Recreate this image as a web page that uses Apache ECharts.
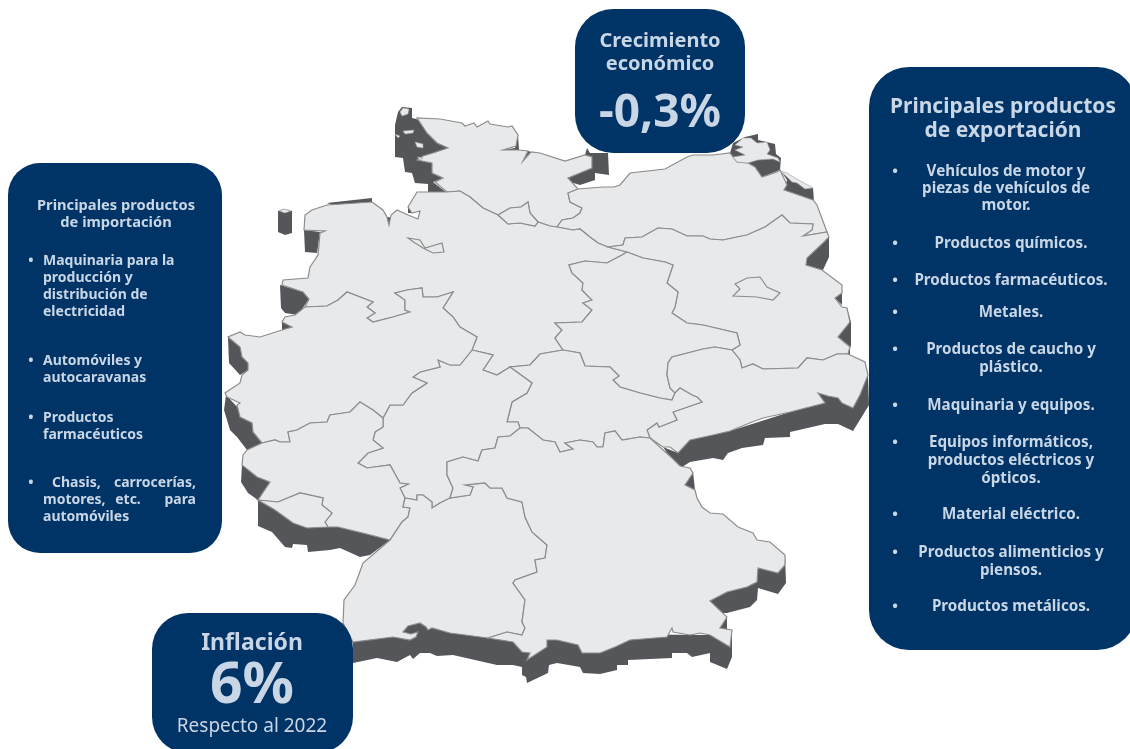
<!DOCTYPE html>
<html><head><meta charset="utf-8">
<style>html,body{margin:0;padding:0;background:#fff}#c{width:1130px;height:749px}</style>
<script src="https://cdn.jsdelivr.net/npm/echarts@6/dist/echarts.min.js"></script>
</head><body><div id="c"></div>
<script>
// ---- texts / values ----
const growthTitle = ['Crecimiento','económico'];
const growthValue = '-0,3%';
const inflationTitle = 'Inflación';
const inflationValue = '6%';
const inflationNote = 'Respecto al 2022';
const importTitle = ['Principales productos','de importación'];
const importItems = [
  ['Maquinaria para la','producción y','distribución de','electricidad'],
  ['Automóviles y','autocaravanas'],
  ['Productos','farmacéuticos'],
  ['Chasis, carrocerías,','motores, etc. para','automóviles']
];
const exportTitle = ['Principales productos','de exportación'];
const exportItems = [
  ['Vehículos de motor y','piezas de vehículos de','motor.'],
  ['Productos químicos.'],
  ['Productos farmacéuticos.'],
  ['Metales.'],
  ['Productos de caucho y','plástico.'],
  ['Maquinaria y equipos.'],
  ['Equipos informáticos,','productos eléctricos y','ópticos.'],
  ['Material eléctrico.'],
  ['Productos alimenticios y','piensos.'],
  ['Productos metálicos.']
];
// ---- map outlines (map units), shared borders ----
const coastSH=[[447,192],[435,182],[443,178],[432,173],[432,163],[417,160],[423,156],[433,153],[448,148],[437,143],[427,133],[417,118],[440,119],[462,123],[465,126],[474,123],[477,127],[488,121],[490,124],[508,127],[512,126],[518,135],[516,146],[503,150],[519,150],[528,151],[523,161],[531,152],[540,153],[565,161],[585,155],[592,157],[592,168],[580,173],[568,178],[578,189]];
const coastMV=[[578,189],[603,187],[614,187],[620,185],[630,173],[665,169],[687,157],[693,155],[713,155],[730,153],[733,157],[737,162],[748,163],[755,167],[762,177],[777,172],[780,170],[787,185],[784,190],[793,193],[813,200],[817,205],[827,232]];
const borderBB=[[827,232],[829,237],[823,243],[807,258],[806,265],[822,270],[842,285],[842,293],[835,298],[842,307],[847,308],[850,322],[838,337],[850,347],[848,354]];
const borderSN=[[848,354],[865,362],[868,375],[860,395],[853,408],[842,403],[838,398],[828,396],[818,393],[825,403],[790,412],[763,418],[752,422],[730,431],[713,435],[690,440],[678,453],[670,447],[663,447],[650,438]];
const borderBY=[[650,438],[662,449],[671,457],[680,466],[690,468],[693,473],[685,485],[695,490],[697,498],[702,507],[710,513],[723,514],[738,527],[753,533],[757,540],[770,542],[785,555],[785,565],[778,573],[758,568],[757,582],[747,587],[727,592],[710,601],[727,617],[720,628],[732,630],[730,647],[710,635],[700,633],[690,635],[673,632],[672,628],[667,637],[630,640],[615,647],[600,653],[582,653],[578,645],[557,640],[547,640],[547,647],[527,660],[530,653],[522,652],[513,642],[507,641],[488,638]];
const borderBW=[[488,638],[450,633],[432,628],[428,630],[426,627],[420,623],[408,626],[403,632],[411,634],[418,632],[416,637],[410,640],[393,637],[353,642],[343,623],[344,600],[355,585],[363,563],[390,540]];
const borderRLPs=[[390,540],[367,534],[338,527],[328,527]];
const borderSaar=[[328,527],[307,528],[293,523],[275,510],[258,500]];
const borderRLPw=[[258,500],[270,482],[257,477],[242,465],[243,455],[247,450],[262,443]];
const borderNRW=[[262,443],[253,432],[252,423],[240,417],[237,405],[240,403],[227,397],[225,393],[240,383],[242,375],[248,370],[248,363],[242,357],[240,347],[228,337],[240,332],[245,335],[260,337],[282,330],[292,327],[282,322],[285,317],[295,315],[305,307]];
const coastNI=[[305,307],[309,299],[303,292],[282,285],[283,280],[308,278],[310,267],[318,255],[320,233],[325,231],[304,230],[305,215],[312,210],[327,205],[372,202],[383,210],[387,217],[389,225],[391,215],[397,210],[408,215],[418,219],[420,211],[412,213],[408,207],[417,192],[447,192]];
const elbe=[[447,192],[460,191],[470,197],[483,208],[498,215]];
const hhN=[[498,215],[510,208],[521,207],[528,202],[530,213],[538,222]];
const hhS=[[498,215],[508,224],[520,223],[535,226],[538,222]];
const elbeE=[[538,222],[550,226],[557,227]];
const shMv=[[578,189],[568,193],[570,202],[582,208],[580,213],[573,218],[562,220],[557,227]];
const niMv=[[557,227],[573,230],[580,229],[590,237],[598,243],[608,247]];
const mvBb=[[608,247],[623,245],[625,238],[642,237],[658,228],[672,229],[687,236],[703,236],[710,239],[723,240],[737,237],[747,235],[765,227],[782,215],[790,223],[813,224],[812,230],[803,236],[827,232]];
const niBb=[[608,247],[627,252]];
const stBb=[[627,252],[643,258],[665,262],[673,265],[667,283],[678,292],[675,307],[672,313],[687,323],[703,325],[737,333],[740,345],[732,350]];
const niSt=[[627,252],[622,255],[607,263],[585,261],[569,265],[572,273],[583,283],[582,290],[592,300],[583,303],[592,310],[582,322],[555,323],[562,330],[555,338],[563,350]];
const niTh=[[563,350],[540,354],[530,365],[510,367]];
const niHe=[[510,367],[497,375],[483,370],[493,355],[472,350]];
const niNrw=[[472,350],[477,337],[460,327],[453,317],[443,308],[453,292],[437,297],[423,297],[422,288],[407,290],[395,293],[405,300],[405,310],[410,312],[393,317],[373,322],[367,318],[375,313],[367,307],[373,302],[347,292],[338,300],[327,306],[305,307]];
const nrwHe=[[472,350],[460,365],[450,365],[438,360],[440,367],[420,372],[413,377],[427,383],[412,393],[403,405],[390,405],[383,418]];
const nrwRlp=[[383,418],[373,410],[360,402],[350,412],[330,415],[327,422],[310,423],[297,430],[288,432],[290,442],[280,442],[275,440],[262,443]];
const heRlp=[[383,418],[383,427],[375,432],[373,440],[383,448],[368,453],[358,463],[367,468],[390,465],[400,483],[408,484],[400,488],[405,498]];
const rlpBw=[[405,498],[403,507],[410,508],[408,517],[402,522],[390,540]];
const heBw=[[405,498],[417,500],[417,495],[423,495],[432,502],[432,508],[440,503],[450,498]];
const heBy=[[450,498],[453,488],[447,475],[447,462],[463,457],[478,461],[482,450],[495,448],[498,437],[510,436],[520,428]];
const bwBy=[[450,498],[470,495],[473,487],[465,485],[485,483],[490,488],[502,488],[507,498],[522,502],[525,517],[532,532],[547,545],[545,558],[535,560],[537,572],[515,580],[513,583],[525,600],[522,622],[525,628],[522,635],[507,632],[488,638]];
const heTh=[[510,367],[532,383],[527,393],[512,402],[507,422],[518,422],[520,428]];
const thBy=[[520,428],[528,428],[543,440],[555,442],[560,452],[573,449],[565,443],[580,440],[593,442],[597,447],[603,447],[605,433],[615,431],[622,440],[640,437],[650,438]];
const thSn=[[650,438],[647,430],[657,423],[659,427],[677,420],[673,412],[702,402],[697,397],[692,395],[680,388],[675,393]];
const stTh=[[563,350],[580,353],[585,366],[610,367],[619,376],[613,380],[620,387],[640,393],[660,398],[672,400],[675,393]];
const stSn=[[675,393],[670,388],[667,375],[668,363],[672,357],[703,349],[715,347],[732,350]];
const bbSn=[[732,350],[740,360],[742,368],[753,364],[763,369],[798,368],[807,358],[823,360],[837,354],[848,354]];
const rlpSaar=[[258,500],[278,502],[300,493],[323,498],[322,505],[332,513],[325,522],[328,527]];
const berlin=[[735,284],[747,278],[760,277],[767,287],[780,293],[773,300],[757,297],[733,296],[740,289]];
const bremen=[[408,238],[420,240],[425,248],[442,243],[444,252],[433,253],[423,248],[415,243]];
// relief side walls (dark)
const wallHelgoland=[[278,211],[284,209],[292,211],[292,233],[285,235],[278,232]];
const wallFrisia=[[398,112],[402,107],[412,108],[412,118],[420,120],[427,133],[437,143],[448,148],[433,153],[423,157],[417,160],[432,163],[432,173],[443,178],[433,182],[447,193],[428,195],[428,184],[415,183],[412,173],[405,172],[403,158],[395,157],[395,125]];
const wallKiel=[[503,150],[515,148],[518,135],[519,150]];
const wallKiel2=[[523,161],[528,151],[531,152]];
const wallLuebeck=[[585,155],[587,148],[590,153],[608,153],[609,175],[595,173],[595,180],[580,185],[570,182],[568,178],[580,173],[592,168],[592,157]];
const wallWismar=[[614,187],[619,189],[620,185]];
const wallRuegen=[[730,153],[733,143],[745,137],[758,134],[758,140],[775,144],[776,154],[781,158],[780,170],[762,177],[755,170],[748,163],[737,162]];
const wallUsedom=[[780,170],[790,177],[800,183],[813,188],[814,201],[793,195],[784,190],[787,180]];
const wallOder1=[[829,237],[829,257],[823,270],[806,265],[807,258],[823,243]];
const wallOder2=[[842,285],[842,305],[835,298]];
const wallOder3=[[847,308],[851,322],[851,347],[838,337]];
const wallOder4=[[850,347],[850,358],[848,354]];
const wallSaxony=[[818,393],[838,398],[853,408],[868,375],[869,405],[853,431],[838,424],[825,424],[790,432],[790,437],[765,438],[763,445],[742,448],[728,453],[723,460],[713,458],[690,462],[682,467],[672,460],[663,447],[678,453],[690,440],[730,431],[790,412],[825,403]];
const wallBohemia=[[693,472],[695,490],[685,485]];
const wallInn=[[785,555],[786,583],[778,594],[758,588],[757,600],[750,607],[727,613],[720,613],[710,601],[727,592],[757,582],[758,568],[778,573]];
const wallSalzach=[[727,617],[727,630],[720,628]];
const wallAlps=[[732,630],[732,657],[727,669],[710,662],[710,653],[692,657],[687,653],[672,653],[672,658],[628,660],[628,665],[617,665],[617,670],[600,674],[583,673],[580,667],[557,663],[549,665],[548,673],[527,683],[526,677],[522,675],[522,667],[513,665],[497,665],[453,655],[437,656],[430,653],[420,653],[413,659],[410,655],[397,662],[377,658],[353,663],[353,642],[403,632],[408,626],[420,623],[450,633],[710,635]];
const wallSaar=[[258,500],[258,526],[272,532],[285,547],[292,548],[293,544],[307,545],[308,552],[330,550],[340,548],[360,557],[370,555],[390,540],[338,527]];
const wallRlp=[[242,465],[241,482],[248,493],[258,500],[270,483]];
const wallEifel=[[226,395],[224,410],[230,430],[237,437],[247,450],[262,443],[252,423]];
const wallNiederrhein=[[228,337],[229,363],[240,375],[248,370],[248,363],[242,348]];
const wallNrwNotch=[[282,320],[282,330],[292,327]];
const wallEms=[[280,285],[281,308],[285,313],[298,315],[309,299],[303,292]];
const wallEmsland=[[304,230],[320,232],[317,253],[305,252]];
const wallFrisianIsl=[[327,203],[372,198],[372,202],[335,206]];
const wallJade=[[378,218],[387,217],[395,218],[395,225],[390,225],[387,223]];
const wallElbe=[[408,207],[412,213],[408,213]];
const islets=[
  [[279,211],[284,209],[291,211],[285,213]],
  [[400,112],[403,108],[409,109],[408,114],[402,116]],
  [[403,131],[414,130],[413,133],[405,134]],
  [[395,134],[400,136],[398,138]],
  [[415,142],[423,144],[423,148],[417,147]],
  [[417,157],[423,158],[420,160]],
  [[743,138],[751,138],[757,143],[767,142],[770,150],[767,154],[778,158],[780,162],[773,159],[758,160],[748,163],[737,162],[733,157],[745,155],[735,150],[743,147],[735,145]],
  [[780,171],[787,173],[795,178],[813,188],[805,189],[797,183],[792,182],[788,178]]
];
// ---- assemble ----
const rev=a=>a.slice().reverse();
const ring=(...segs)=>segs.flat().map(p=>[p[0],-p[1]]);
const walls=[wallHelgoland,wallFrisia,wallKiel,wallKiel2,wallLuebeck,wallWismar,wallRuegen,wallUsedom,wallOder1,wallOder2,wallOder3,wallOder4,wallSaxony,wallBohemia,wallInn,wallSalzach,wallAlps,wallSaar,wallRlp,wallEifel,wallNiederrhein,wallNrwNotch,wallEms,wallEmsland,wallFrisianIsl,wallJade,wallElbe];
const states={
 'Schleswig-Holstein':ring(coastSH,shMv,rev(elbeE),rev(hhN),rev(elbe)),
 'Mecklenburg-Vorpommern':ring(coastMV,rev(mvBb),rev(niMv),rev(shMv)),
 'Niedersachsen':ring(coastNI,elbe,hhS,elbeE,niMv,niBb,niSt,niTh,niHe,niNrw),
 'Hamburg':ring(hhN,rev(hhS)),
 'Brandenburg':ring(mvBb,borderBB,rev(bbSn),rev(stBb),rev(niBb)),
 'Sachsen-Anhalt':ring(stBb,rev(stSn),rev(stTh),rev(niSt)),
 'Sachsen':ring(bbSn,borderSN,thSn,stSn),
 'Thüringen':ring(stTh,rev(thSn),rev(thBy),rev(heTh),rev(niTh)),
 'Hessen':ring(rev(niHe),heTh,rev(heBy),rev(heBw),rev(heRlp),rev(nrwHe)),
 'Nordrhein-Westfalen':ring(niNrw,rev(borderNRW),rev(nrwRlp),rev(nrwHe)),
 'Rheinland-Pfalz':ring(nrwRlp,rev(borderRLPw),rlpSaar,rev(borderRLPs),rev(rlpBw),rev(heRlp)),
 'Saarland':ring(borderSaar,rlpSaar),
 'Baden-Württemberg':ring(heBw,bwBy,borderBW,rev(rlpBw)),
 'Bayern':ring(heBy,thBy,borderBY,rev(bwBy)),
 'Berlin':ring(berlin),
 'Bremen':ring(bremen)
};
const features=[];
const regions=[];
const wallStyle={itemStyle:{areaColor:'#54565a',borderWidth:0}};
walls.forEach((w,i)=>{const n='wall'+i;features.push({type:'Feature',properties:{name:n},geometry:{type:'Polygon',coordinates:[ring(w)]}});regions.push({name:n,...wallStyle});});
Object.keys(states).forEach(n=>features.push({type:'Feature',properties:{name:n},geometry:{type:'Polygon',coordinates:[states[n]]}}));
islets.forEach((w,i)=>{const n='islet'+i;features.push({type:'Feature',properties:{name:n},geometry:{type:'Polygon',coordinates:[ring(w)]}});regions.push({name:n,itemStyle:{areaColor:'#e8e9ea',borderColor:'#9a9a9a',borderWidth:0.6}});});
echarts.registerMap('de',{type:'FeatureCollection',features});
const all=features.flatMap(f=>f.geometry.coordinates[0]);
const xs=all.map(p=>p[0]),ys=all.map(p=>-p[1]);
const x0=Math.min(...xs),x1=Math.max(...xs),y0=Math.min(...ys),y1=Math.max(...ys);
// ---- panels ----
const NAVY='#003366',INK='#c8d6e6',FF='"Noto Sans"';
const g=[];
const rect=(x,y,w,h,r)=>g.push({type:'rect',z:100,shape:{x,y,width:w,height:h,r},style:{fill:NAVY}});
const txt=(t,x,y,size,weight,align)=>g.push({type:'text',z:101,style:{text:t,x,y:y+1,fill:INK,font:(weight||700)+' '+size+'px '+FF,textAlign:align||'center',textVerticalAlign:'middle'}});
rect(575,9,170,144,38);
rect(152,613,201,140,36);
rect(8,163,214,390,32);
rect(869,67,268,583,40);
txt(growthTitle[0],660,40,20,700);txt(growthTitle[1],660,63,20,700);
txt(growthValue,660,113,46,700);
txt(inflationTitle,252,642,23,700);
txt(inflationValue,252,686,57,700);
txt(inflationNote,252,726,19,400);
// left panel
txt(importTitle[0],116,205,14.7,700);txt(importTitle[1],116,222,14.7,700);
const importY=[[260,277,294,311],[360,377],[417,434],[482,499,516]];
importItems.forEach((it,i)=>{
  txt('•',31,importY[i][0],14,700);
  it.forEach((l,j)=>{
    if(i===3&&j<2){ // justified lines
      const words=l.split(' ');
      const xsW= j===0?[[52,'left'],[196,'right']]:[[43,'left'],[128,'center'],[196,'right']];
      words.forEach((w,k)=>txt(w,xsW[k][0],importY[i][j],14,700,xsW[k][1]));
    } else txt(l,43,importY[i][j],14,700,'left');
  });
});
// right panel
txt(exportTitle[0],1003,106,21,700);txt(exportTitle[1],1003,130,21,700);
const exportY=[[171,188,205],[243],[280],[312],[349,367],[405],[442,460,478],[514],[552,570],[606]];
exportItems.forEach((it,i)=>{
  txt('•',895,exportY[i][0],15,700);
  it.forEach((l,j)=>txt(l,i===0?1006:1011,exportY[i][j],15.2,700));
});
const chart=echarts.init(document.getElementById('c'),null,{renderer:'canvas'});
chart.setOption({
  animation:false,
  backgroundColor:'#fff',
  geo:{map:'de',silent:true,roam:false,aspectScale:1,left:x0,top:y0,width:x1-x0,height:y1-y0,
    itemStyle:{areaColor:'#e8e9ea',borderColor:'#8c8c8c',borderWidth:1.2},
    label:{show:false},regions},
  graphic:{elements:g}
});
</script></body></html>
